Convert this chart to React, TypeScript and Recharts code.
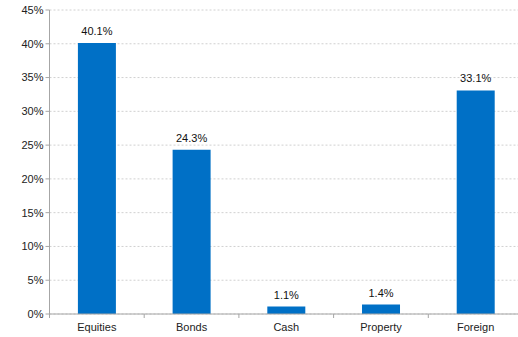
import { BarChart, Bar, XAxis, YAxis, CartesianGrid, LabelList } from 'recharts'

const categories = ['Equities', 'Bonds', 'Cash', 'Property', 'Foreign']
const allocation = [40.1, 24.3, 1.1, 1.4, 33.1]
const yTicks = [0, 5, 10, 15, 20, 25, 30, 35, 40, 45]

const data = categories.map((name, i) => ({ name, value: allocation[i] }))

const W = 518
const H = 337
// plot area runs a few px past the right edge in the reference
const CHART_W = 523
const AXIS_W = 49.5
const STEP = (CHART_W - AXIS_W) / categories.length
const FONT = 'Liberation Sans, Arial, sans-serif'
const AXIS_COLOR = '#a6a6a6'

function CategoryTick({ x, y, payload }: { x?: number; y?: number; payload?: { value: string } }) {
  const cx = x ?? 0
  const cy = y ?? 0
  const bx = cx - STEP / 2
  return (
    <g>
      <line x1={bx} y1={cy - 8} x2={bx} y2={cy - 4} stroke={AXIS_COLOR} />
      <text x={cx} y={cy + 9} textAnchor="middle" fill="#222" fontSize={11} fontFamily={FONT}>
        {payload?.value}
      </text>
    </g>
  )
}

export default function App() {
  return (
    <div style={{ width: W, height: H, overflow: 'hidden' }}>
      <style>{'body{margin:0}'}</style>
      <BarChart
        width={CHART_W}
        height={H}
        data={data}
        margin={{ top: 10, right: 0, bottom: 0, left: 0 }}
        barCategoryGap="30%"
      >
        <CartesianGrid vertical={false} stroke="#d0d0d0" strokeDasharray="2 2" />
        <XAxis
          dataKey="name"
          height={23}
          axisLine={{ stroke: AXIS_COLOR }}
          tickLine={false}
          tick={<CategoryTick />}
          interval={0}
        />
        <YAxis
          width={AXIS_W}
          domain={[0, 45]}
          ticks={yTicks}
          interval={0}
          tickFormatter={(v: number) => `${v}%`}
          axisLine={{ stroke: AXIS_COLOR }}
          tickLine={{ stroke: AXIS_COLOR }}
          tickSize={4}
          tick={{ fill: '#222', fontSize: 11, fontFamily: FONT }}
        />
        <Bar dataKey="value" fill="#0070c6" isAnimationActive={false}>
          <LabelList
            dataKey="value"
            position="top"
            offset={8}
            formatter={(v: number) => `${v.toFixed(1)}%`}
            style={{ fill: '#111', fontSize: 11, fontFamily: FONT }}
          />
        </Bar>
      </BarChart>
    </div>
  )
}
